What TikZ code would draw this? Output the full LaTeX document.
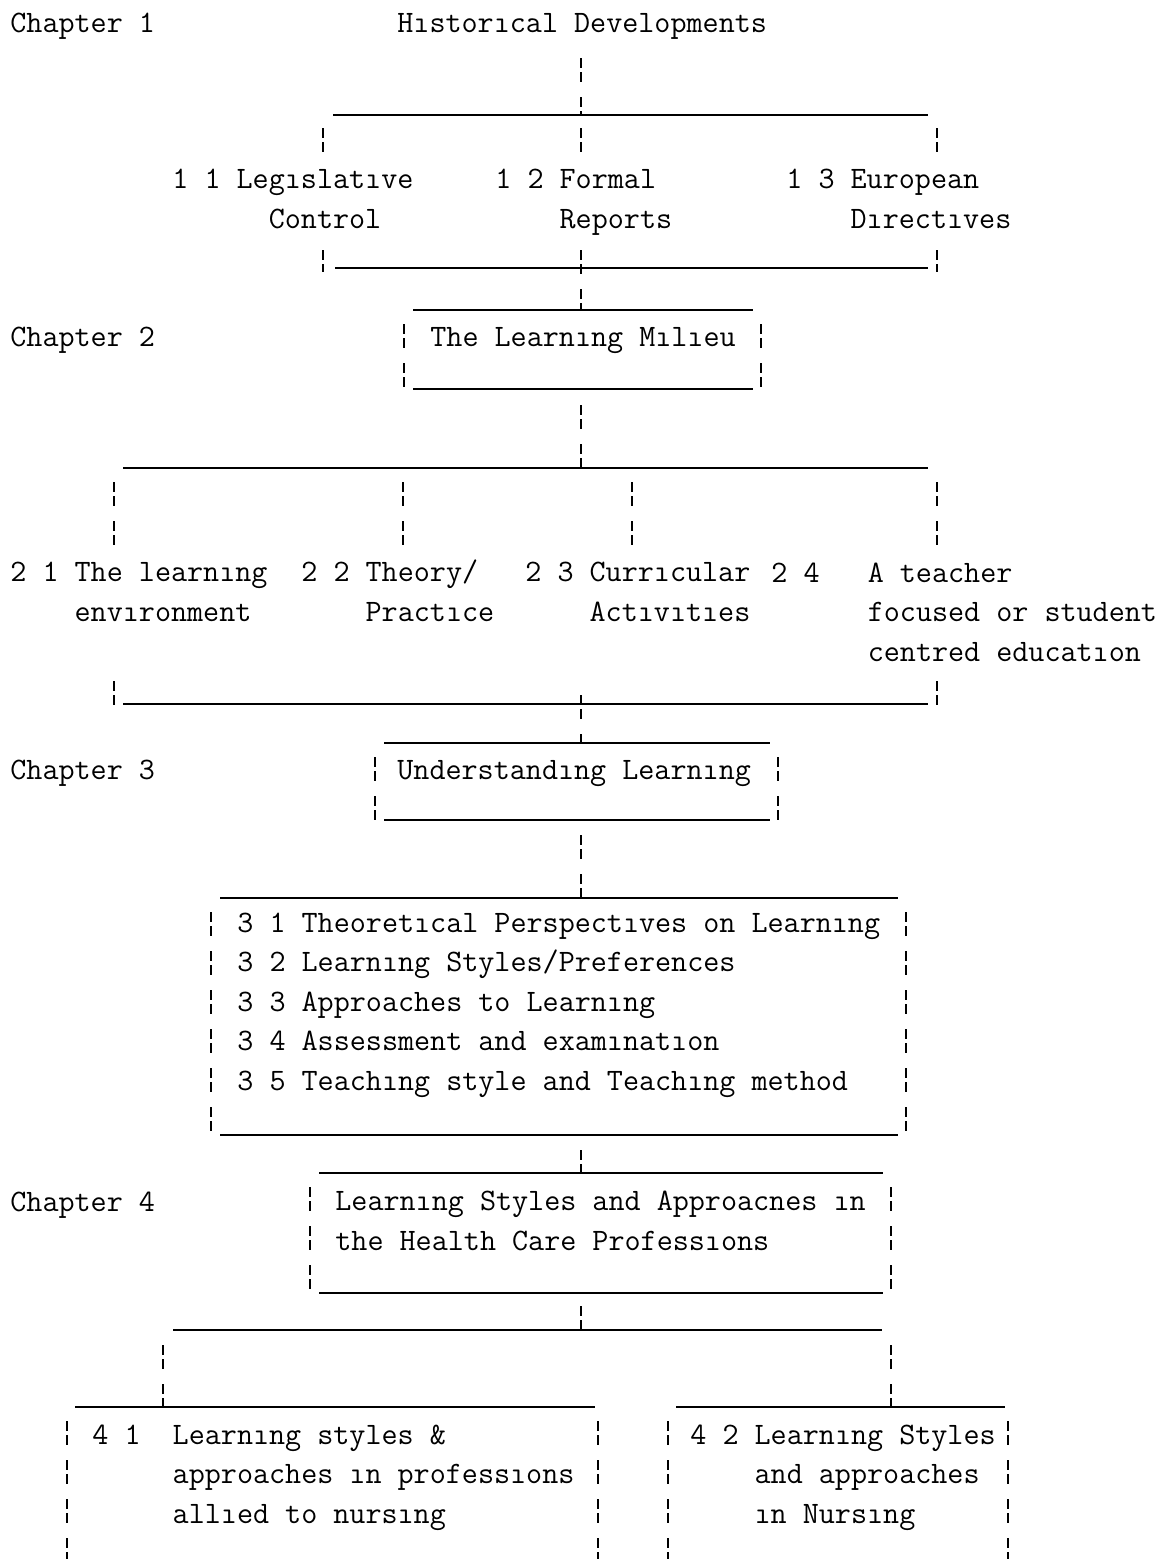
\documentclass[tikz,border=0pt]{standalone}
\usepackage{fontspec}
\newcommand\ind[1]{\hspace*{#1\fontcharwd\font`x}}

\begin{document}
\begin{tikzpicture}[
    x=0.5pt, y=-0.5pt,
    txt/.style={font=\ttfamily\fontsize{15.6}{19.7}\selectfont, inner sep=0pt, anchor=base west, align=left},
    bus/.style={line width=1pt},
    vbar/.style={line width=0.7pt, dash pattern=on 5pt off 2pt on 5pt off 7.5pt}
]
    \useasboundingbox (0,0) rectangle (1158,1559);

    % === Chapter 1 ===
    \node[txt] (ch1) at (10,32) {Chapter 1};
    \node[txt] (hist) at (397,32) {Hıstorıcal Developments};

    % Trunk and bus
    \coordinate (h0) at (581,58);
    \coordinate (h1) at (581,115);
    \coordinate (h1l) at (333,115);
    \coordinate (h1r) at (928,115);
    \draw[vbar] (h0) -- (h1);
    \draw[bus] (h1l) -- (h1r);

    % Drops to the sections
    \foreach \n/\x in {a/323, b/581, c/937} {
        \coordinate (dt\n) at (\x,128);
        \coordinate (db\n) at (\x,152);
        \draw[vbar] (dt\n) -- (db\n);
    }

    % (multi-line texts sit on the baseline of their last line)
    \node[txt] (s11) at (172,228) {1 1 Legıslatıve\\\ind{6}Control};
    \node[txt] (s12) at (495,228) {1 2 Formal\\\ind{4}Reports};
    \node[txt] (s13) at (786,228) {1 3 European\\\ind{4}Dırectıves};

    % Gathering bus
    \foreach \n/\x in {a/323, b/581, c/937} {
        \coordinate (ut\n) at (\x,250);
        \coordinate (ub\n) at (\x,272);
    }
    \coordinate (h2l) at (335,268);
    \coordinate (h2r) at (928,268);
    \coordinate (mtop) at (581,310);
    \draw[vbar] (uta) -- (uba);
    \draw[vbar] (utc) -- (ubc);
    \draw[bus] (h2l) -- (h2r);
    \draw[vbar] (utb) -- (mtop);

    % === Chapter 2 ===
    \node[txt] (ch2) at (10,346) {Chapter 2};
    \node[txt] (milieu) at (430,346) {The Learnıng Mılıeu};
    \coordinate (mnw) at (404,310);
    \coordinate (mse) at (761,389);

    \coordinate (m0) at (581,405);
    \coordinate (m1) at (581,468);
    \coordinate (m1l) at (123,468);
    \coordinate (m1r) at (928,468);
    \draw[vbar] (m0) -- (m1);
    \draw[bus] (m1l) -- (m1r);

    \foreach \n/\x in {a/114, b/403, c/632, d/937} {
        \coordinate (mt\n) at (\x,482);
        \coordinate (mb\n) at (\x,545);
        \draw[vbar] (mt\n) -- (mb\n);
    }

    \node[txt] (s21) at (10,621) {2 1 The learnıng\\\ind{4}envıronment};
    \node[txt] (s22) at (301,621) {2 2 Theory/\\\ind{4}Practıce};
    \node[txt] (s23) at (525,621) {2 3 Currıcular\\\ind{4}Actıvıtıes};
    \node[txt] (s24) at (771,661) {2 4\ind{3}A teacher\\\ind{6}focused or student\\\ind{6}centred educatıon};

    \coordinate (nta) at (114,681);
    \coordinate (nba) at (114,705);
    \coordinate (ntd) at (937,681);
    \coordinate (nbd) at (937,705);
    \coordinate (n1l) at (123,704);
    \coordinate (n1r) at (928,704);
    \coordinate (n0) at (581,695);
    \coordinate (utop) at (581,743);
    \draw[vbar] (nta) -- (nba);
    \draw[vbar] (ntd) -- (nbd);
    \draw[bus] (n1l) -- (n1r);
    \draw[vbar] (n0) -- (utop);

    % === Chapter 3 ===
    \node[txt] (ch3) at (10,779) {Chapter 3};
    \node[txt] (underst) at (397,779) {Understandıng Learnıng};
    \coordinate (unw) at (375,743);
    \coordinate (use) at (778,820);

    \coordinate (u0) at (581,835);
    \coordinate (ttop) at (581,898);
    \draw[vbar] (u0) -- (ttop);

    \node[txt] (topics) at (237,1090) {3 1 Theoretıcal Perspectıves on Learnıng\\
        3 2 Learnıng Styles/Preferences\\
        3 3 Approaches to Learnıng\\
        3 4 Assessment and examınatıon\\
        3 5 Teachıng style and Teachıng method};
    \coordinate (tnw) at (211,898);
    \coordinate (tse) at (906,1135);

    \coordinate (t0) at (581,1150);
    \coordinate (htop) at (581,1173);
    \draw[vbar] (t0) -- (htop);

    % === Chapter 4 ===
    \node[txt] (ch4) at (10,1211) {Chapter 4};
    \node[txt] (health) at (335,1250) {Learnıng Styles and Approacnes ın\\the Health Care Professıons};
    \coordinate (hnw) at (310,1173);
    \coordinate (hse) at (891,1293);

    \coordinate (k0) at (581,1306);
    \coordinate (k1) at (581,1330);
    \coordinate (k1l) at (173,1330);
    \coordinate (k1r) at (882,1330);
    \draw[vbar] (k0) -- (k1);
    \draw[bus] (k1l) -- (k1r);

    \coordinate (kta) at (163,1345);
    \coordinate (f1top) at (163,1407);
    \coordinate (ktb) at (891,1345);
    \coordinate (f2top) at (891,1407);
    \draw[vbar] (kta) -- (f1top);
    \draw[vbar] (ktb) -- (f2top);

    \node[txt] (s41) at (92,1523) {4 1\ind{2}Learnıng styles \&\\\ind{5}approaches ın professıons\\\ind{5}allıed to nursıng};
    \node[txt] (s42) at (690,1523) {4 2 Learnıng Styles\\\ind{4}and approaches\\\ind{4}ın Nursıng};
    \coordinate (f1nw) at (67,1407);
    \coordinate (f1se) at (598,1559);
    \coordinate (f2nw) at (668,1407);
    \coordinate (f2se) at (1008,1559);

    % === Frames ===
    \foreach \nw/\se in {mnw/mse, unw/use, tnw/tse, hnw/hse} {
        \draw[bus] ([xshift=4.5pt]\nw) -- ([xshift=-4pt]\nw -| \se);
        \draw[bus] ([xshift=4.5pt]\se -| \nw) -- ([xshift=-4pt]\se);
        \draw[vbar] ([yshift=-7pt]\nw) -- (\se -| \nw);
        \draw[vbar] ([yshift=-7pt]\nw -| \se) -- (\se);
    }
    % open at the foot of the page
    \foreach \nw/\se in {f1nw/f1se, f2nw/f2se} {
        \draw[bus] ([xshift=4pt]\nw) -- ([xshift=-1.5pt]\nw -| \se);
        \draw[vbar] ([yshift=-7pt]\nw) -- (\se -| \nw);
        \draw[vbar] ([yshift=-7pt]\nw -| \se) -- (\se);
    }
\end{tikzpicture}
\end{document}
